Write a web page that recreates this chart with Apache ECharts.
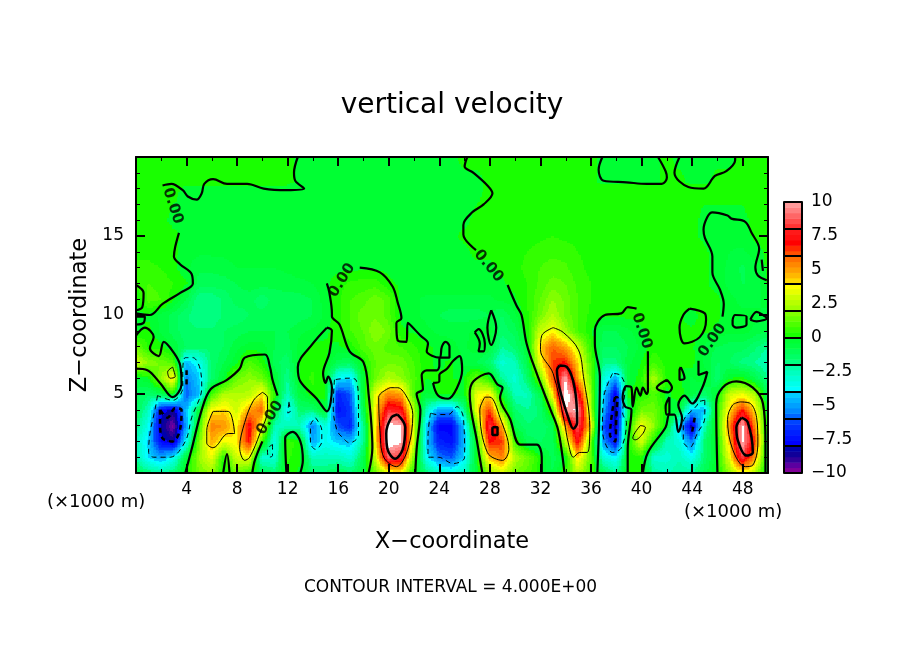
<!DOCTYPE html>
<html>
<head>
<meta charset="utf-8">
<title>vertical velocity</title>
<style>html,body{margin:0;background:#fff}#chart{width:904px;height:654px}</style>
<script src="https://cdn.jsdelivr.net/npm/echarts@6/dist/echarts.min.js"></script>
</head>
<body>
<div id="chart"></div>
<script>
// grid nodes of the field (x and z in 1000 m)
const xNodes = Array.from({ length: 51 }, (_, i) => i);
const zNodes = [0, 1, 2, 3, 4, 5, 6, 7, 8, 9, 10, 11, 12, 13, 14, 15, 16, 18, 18.5, 20];

// vertical velocity, one row per zNodes entry
const wRows = [
  [-1,-1.5,-2,-1.5,.2,1.5,2,0,1.5,.5, -1,-1.5,.2,-.1,-1.5,-1.5,-1,-1.5,-.5,1.5, 3,3.5,.2,-1.5,-2.5,-3,-2.5,-.5,2,3, 1.5,1,.1,-.8,.5,2.5,.8,-1,-2,.1, .1,-2,-2.5,-2,-2,-1,0,2,3.5,2.5, -.5],
  [-2,-4,-4.8,-3.5,-.5,2,3.5,.3,3,3.5, -3,-3,.5,.1,-2.5,-2.5,-2.5,-3,-1,3, 9,8,1.5,-3.5,-5.5,-6,-4,0,4.5,5.5, 2.5,1.5,.2,-1,-.2,4.2,1.2,-3,-3.8,0, .3,-3,-3,-2.5,-3.5,-1.5,0,3.5,8.5,5, -.5],
  [-2.5,-4.2,-7.5,-8.5,-3.5,1.5,4.8,3.5,4,7, 1,-3.5,.8,0,-4.8,-3.5,-4.2,-4.5,-2,4, 10.6,10.3,3,-4.2,-7,-7.5,-4.5,.2,7,6.5, .8,-1,-1.2,-1,2.5,7.5,1.5,-5,-7.5,.2, 3.2,.1,-2.5,-3,-5.5,-1.5,0,4.5,10.3,6.5, -.5],
  [-1.5,-3.5,-8.3,-9.8,-5,.3,5.5,5.2,3.8,7.5, 3.5,-2.5,-2.5,-2.5,-5.5,-3,-6,-7,-2,4, 10.5,10.2,3.2,-4,-7.8,-7.8,-4.2,1.5,8.5,5, -.8,-1.5,-1.5,-1,5,8.8,4.2,-6,-8.5,.1, 3.8,2,-.3,-4.2,-8.5,-2.5,.3,5.5,10.3,5.5, -.3],
  [-1,-2.5,-7.5,-8.5,-4.5,-.5,3.8,4.2,3,5, 6,-.5,-3.8,-1.5,-1.5,-.2,-7.5,-6.5,-1,4, 8,7.5,2.5,-2.5,-5,-5,-2,3.8,6.5,1.5, -1.5,-2,-1.5,1,9.8,10.2,2.5,-4.5,-8.5,-1, 1.5,1.5,.2,-.5,-4.5,-4.5,.5,4,7,4, -.3],
  [-1,-1.5,-1,.1,-6,-4.5,.8,2.5,2.5,2.5, 4.2,.3,-2.5,-.5,.3,.2,-7,-6,-.5,3.5, 5.5,5,1,-.5,.1,.1,-.1,3.5,4,-.2, -2.5,-2.5,-1,4,11,8,2,-4,-8,.2, .2,1,-.2,.3,-.5,-1.5,-.2,3,3.5,2.5, -1],
  [-.5,-.1,2,4.2,-5.5,-4.2,-1.5,-.2,1.5,2, 1.5,-.3,-2,.1,.5,-.1,-3.8,-4.2,-.3,1.5, 2.5,2,1,0,.1,0,0,1.5,.3,-2, -3,-1.5,1.5,6,10.1,5,1.5,-3,-5,-.5, .3,2.5,.3,.1,-.5,0,-1.5,0,.3,-.8, -2],
  [3,2,1.5,1,-4.5,-3.5,-1.5,-.8,-.1,1, .3,-1,-1.5,.1,.3,.1,-1,-1.2,.1,1.2, 1.5,1.5,.8,.1,-.1,.1,-.5,-.8,-1.5,-3, -2.5,-.8,3.5,6.5,7,4.2,1,-1.8,-1.8,-.5, 0,.8,.2,0,.2,-.5,-1.2,-1.2,-1.8,-2, -2.5],
  [1.5,.3,.2,-.5,-1.2,-1.5,-1.5,-1.2,-.5,-.2, -.2,-.8,-1,-.2,.1,.1,-.1,.2,1,1.5, 1,.8,.5,.1,-.1,-.3,-.5,-.1,-.5,-2, -1.5,-.3,4.2,6,5,3,.5,-1.2,-1.2,-.8, -.3,.2,.2,.1,.1,-.5,-.8,-1,-1,-1.5, -2],
  [-.2,.2,-.5,-1,-1.5,-1.5,-1.5,-1.2,-1,-.8, -.8,-.8,-.8,-.5,-.3,-.1,.2,.8,1.2,2, 1.5,.1,-.1,-.3,-.5,-.5,-.5,-.3,-.1,-1.5, -1,.2,2.8,3.8,2.2,.8,.1,-.8,-.8,-.5, -.1,.1,.1,0,.1,.1,-.1,-.3,-.2,-.5, -.8],
  [-.1,-.1,-.5,-1,-1.5,-2,-2,-1.5,-1.5,-1.2, -1,-1,-1.2,-1,-.8,-.3,.3,.8,1.5,1.5, 1,-.1,-.3,-.5,-.8,-1,-1,-1,-.8,-1.2, -.5,.3,1.5,2.5,1.5,.8,.3,.1,.1,.1, .2,.2,.2,.1,-.2,.2,.1,-.3,-.3,-.3, -.5],
  [-.1,1,.8,.1,-.8,-2,-2,-1.5,-1,-1, -1.5,-1,-1,-1,-.8,-.2,.3,.8,1,1.5, 1,-.1,-.3,-.5,-.5,-.5,-.5,-.5,-.5,-.3, -.1,.4,1.2,2,1.5,.8,.4,.2,.2,.2, .2,.2,.2,.2,.2,.2,.1,-.3,-.5,-.5, -.3],
  [.6,.8,.7,.4,.1,-1,-1,-1,-.8,-.6, -.6,-.7,-.6,-.5,-.4,-.1,.2,.5,.6,.6, .1,-.1,-.2,-.2,-.2,-.2,-.2,-.2,-.2,-.1, .2,.4,.9,1.4,1.2,.7,.4,.2,.2,.2, .2,.2,.2,.2,.2,.1,-.2,-.5,-.8,-.8, .1],
  [.5,.5,.4,.1,-.3,-.7,-.7,-.6,-.4,-.4, -.4,-.4,-.3,-.2,-.2,-.1,-.1,-.1,-.1,-.1, -.1,-.1,-.1,-.1,-.1,-.1,-.1,-.1,-.1,.1, .3,.5,.8,1,.9,.5,.3,.2,.2,.2, .2,.2,.2,.2,.2,.1,-.2,-.5,-.9,-.5, .1],
  [.3,.3,.2,.1,-.2,-.3,-.3,-.3,-.2,-.2, -.2,-.2,-.2,-.2,-.2,-.2,-.2,-.2,-.2,-.2, -.2,-.2,-.2,-.2,-.2,-.2,-.1,.1,.1,.2, .3,.4,.6,.7,.6,.4,.3,.2,.2,.2, .2,.2,.2,.2,.2,.1,-.2,-.4,-.5,-.2, .1],
  [.2,.2,.2,.1,-.1,-.1,-.1,-.1,-.1,-.1, -.1,-.1,-.1,-.1,-.1,-.1,-.1,-.1,-.1,-.1, -.1,-.1,-.1,-.1,-.1,-.1,.1,.1,.1,.1, .2,.2,.3,.4,.3,.3,.2,.1,.1,.1, .1,.1,.1,.1,.1,-.1,-.2,-.3,-.2,.1, .1],
  [.1,.1,.1,-.1,-.1,-.1,-.1,-.1,-.1,-.1, -.1,-.1,-.1,-.1,-.1,-.1,-.1,-.1,-.1,-.1, -.1,-.1,-.1,-.1,-.1,-.1,-.1,.1,.1,.1, .1,.2,.2,.3,.2,.2,.1,.1,.1,.1, .1,.1,.1,.1,.1,-.1,-.1,-.1,-.1,.1, .1],
  [.1,.1,.1,.1,-.1,-.1,-.1,-.1,-.1,-.1, -.1,-.1,-.1,-.1,-.1,-.1,-.1,-.1,-.1,-.1, -.1,-.1,-.1,-.1,-.1,-.1,-.1,-.1,.1,.1, .1,.1,.1,.1,.1,.1,.1,.1,.1,.1, .1,.1,.1,.1,.1,.1,.1,.1,.1,.1, .1],
  [.1,.1,.1,.1,.1,.1,.1,.1,.1,.1, .1,.1,.1,-.1,-.1,-.1,-.1,-.1,-.1,-.1, -.1,-.1,-.1,-.1,-.1,-.1,-.1,-.1,.1,.1, .1,.1,.1,.1,.1,.1,.1,-.1,-.1,-.1, -.1,-.1,.1,.1,-.1,-.1,.1,.1,.1,.1, .1],
  [.1,.1,.1,.1,.1,.1,.1,.1,.1,.1, .1,.1,.1,-.1,-.1,-.1,-.1,-.1,-.1,-.1, -.1,-.1,-.1,-.1,-.1,-.1,.1,.1,.1,.1, .1,.1,.1,.1,.1,.1,.1,-.1,-.1,-.1, -.1,-.1,.1,-.1,-.1,-.1,-.1,-.1,.1,.1, .1]
];

// colour bands, bottom of the bar upwards, each one levelStep wide
const levelMin = -10;
const levelStep = 0.4;
const levelColors = [
  '#800099','#5c00a0','#300099','#100099','#0000aa',
  '#0000ff','#0010ff','#0020ff','#0030ff','#0044ff',
  '#0066ff','#0088ff','#00a0ff','#00b4ff','#00ccff',
  '#00ffff','#00ffea','#00ffd5','#00ffc0','#00ffaa',
  '#00ff80','#00ff66','#00ff55','#00ff40','#00ff33',
  '#19ff00','#33ff00','#4dff00','#66ff00','#80ff00',
  '#a0ff00','#b8ff00','#ccff00','#e8ff00','#ffff00',
  '#ffd800','#ffb800','#ff9f00','#ff8800','#ff7000',
  '#ff5000','#ff2a00','#ff0000','#ff1010','#ff1a1a',
  '#ff3333','#ff4d4d','#ff6666','#ff8080','#ff9999'
];

// contour lines, [x, z]
const zeroContours = [
  [[2.1,18.2],[2.8,18.3],[3.7,17.9],[4.1,17.5],[4.8,17.3],[5.2,17.7],[5.4,18.3],[6.1,18.6],[7.2,18.3],[8.8,18.3],[10.1,18],[11.9,17.9],[13.3,18],[12.6,18.5],[12.5,19],[12.8,20]],
  [[3.4,15.2],[3.1,14.3],[3,13.7],[3.5,13.2],[4.4,12.6],[4.5,12],[3.5,11.4],[2.1,10.7],[1.1,10],[0,10.1]],
  [[0,11.9],[.6,11.4],[.5,10.5],[0,10.3]],
  [[0,9.9],[.7,9.9],[.6,9.5],[0,9.4]],
  [[0,8.7],[.7,9.2],[1.4,8.6],[1.1,7.9],[1.8,7.4],[2.2,8.3],[3,7.6],[3.5,6.8],[3.6,5.6],[2.9,4.8],[1.9,5.7],[.9,6.5],[0,6.6]],
  [[3.9,0],[4.4,1.5],[5.2,4],[5.9,5.3],[7.2,5.9],[8.2,6.6],[8.6,7.3],[10.2,7.5],[10.6,6.7],[10.8,5.9],[11.2,4.9]],
  [[10,2],[9.4,.8],[9.2,0]],
  [[6.9,0],[7.2,1.2],[7.4,0]],
  [[11.9,0],[11.8,2.2],[12.4,2.6],[13,2],[13.2,.8],[13,0]],
  [[15.1,9.2],[14,8.2],[12.8,6.7],[13,5.8],[14.3,4.7],[15.1,3.9],[15.5,5.4],[15.2,6.1],[15,5.7],[14.8,6.3],[15.3,7.6],[15.5,9],[15.1,9.2]],
  [[15.1,12],[15.3,11.4],[15.5,10.1],[15.5,9.9],[16.1,9.4],[16.9,7.7],[18,7],[18.4,5],[18.7,1.6],[18.4,0]],
  [[17.7,13],[19.3,12.7],[20.3,11.8],[20.7,10.8],[21,9.8],[20.6,9.5],[20.7,8.4],[21.4,8.3],[21.5,9.5],[22.5,8.7],[23.1,8.2],[23,7.7],[24,7.3],[24.2,8],[24.5,8.3],[24.8,8],[24.8,7.3],[24,7.3],[24,6.8],[23.8,6.5],[23,6.5],[22.6,6.2],[22.7,5.3],[22.2,5],[22.5,4],[22.2,1.5],[22.1,0]],
  [[23.5,5.7],[23.9,4.9],[24.7,4.7],[25.4,5.4],[25.8,6.5],[25.6,7.4],[25.1,7.1],[24.6,6.6],[24,6.2],[24,5.8],[23.5,5.7]],
  [[28.1,10.3],[28.5,9.2],[28.1,8.1],[27.8,9.2],[28.1,10.3]],
  [[26.8,8.9],[27.1,9.1],[27.6,8.2],[27.5,7.7],[27.1,7.7],[27.2,8.2],[26.8,8.9]],
  [[27.4,0],[27,1.9],[26.4,5],[26.7,5.8],[27.9,6.3],[28.6,5.6],[29,5.4],[28.8,4.8],[29.6,3.4],[30.4,1.8],[31.7,1.8],[32.1,1],[32.1,0]],
  [[26.2,20],[26,19.4],[26.7,19],[27.8,18.2],[28.2,17.7],[27.5,17],[26.6,16.5],[25.9,15.7],[25.9,15.1],[26.9,14.1]],
  [[29.4,11.9],[30.1,10.6],[30.5,10],[30.9,8.2],[31.7,6.3],[32.8,4],[33.4,2.7],[33.9,0]],
  [[39.6,10.4],[38.9,10.5],[38.4,10.1],[37.1,10],[36.3,9],[36.3,8.2],[36.7,6.1],[36.5,0]],
  [[38.9,0],[38.9,1.5],[39.2,4],[38.7,4.2],[38.5,4.8],[38.8,5.5],[39.2,5.4],[39.3,4.2],[39.6,5.4],[39.9,4.9],[40.1,5.4],[40.4,5],[40.5,5.2],[40.5,7.7]],
  [[40.1,0],[40.5,1.3],[41.9,2.9],[42.2,3.7],[42.6,3.7],[42.9,2.6],[43.2,3.5],[42.9,4.3],[43.4,4.9],[44,4.4],[44.8,5.4],[45.2,6.4],[44.5,6.2],[44.5,7.1]],
  [[46.4,9.9],[46.5,10.7],[46.2,11.6],[45.6,12.7],[45.6,13.7],[45,14.9],[44.9,15.4],[45.2,16.2],[45.6,16.5],[46.8,16.3],[47.1,16.1],[48.2,15.9],[48.7,15.2],[49.3,14.2],[49,13],[49.2,12.5],[49.9,12.2]],
  [[49.5,13.5],[49.6,12.8]],
  [[36.9,20],[36.6,19.2],[37,18.5],[38.8,18.4],[40.4,18.3],[41.6,18.3],[42,18.7],[41.9,19.1],[41.3,20]],
  [[43,20],[42.6,19],[43.7,18.1],[44.9,18],[45.8,18.8],[46.7,19.1],[47.4,19.8],[47.4,20]],
  [[43.8,10.4],[45,10.1],[45.1,9.7],[44.6,8.6],[43.4,8.2],[43,9.2],[43.3,10],[43.8,10.4]],
  [[47.2,9.7],[47.4,10],[48.3,9.9],[48.3,9.4],[47.5,9.2],[47.2,9.4],[47.2,9.7]],
  [[48.6,9.7],[49.1,10.2],[49.6,10],[49.9,9.8],[49.1,9.6],[48.6,9.7]],
  [[42,5.9],[42.4,5.4],[42.1,5.1],[41.2,5.4],[42,5.9]],
  [[43.1,6.7],[43.4,6],[43,5.9],[43,6.5],[43.1,6.7]],
  [[42.2,4.8],[42.2,3.8],[42,3.7],[41.9,4.2],[42.2,4.8]],
  [[46,0],[45.9,4.4],[46.4,5.4],[47.5,5.8],[48.8,5.4],[49.6,4.4],[49.8,1.9],[49.8,0]]
];
const posFourContours = [
  [[2.9,6.7],[3.1,6.1],[2.7,6],[2.5,6.4],[2.9,6.7]],
  [[6.1,3.9],[7.3,3.9],[7.8,2.5],[7.3,2.5],[6.1,1.6],[5.6,1.9],[5.6,2.7],[6.1,3.9]],
  [[10,5.1],[10.4,4.8],[10.4,4],[9.8,2.5],[9,1],[8.6,.8],[8.2,1.6],[8.6,3.2],[9.3,4.6],[10,5.1]],
  [[20.1,5.4],[20.7,5.4],[21.5,4.7],[21.9,3.7],[21.5,1.5],[20.6,.4],[19.6,1],[19.3,2.7],[19.2,4.8],[20.1,5.4]],
  [[27.6,4.8],[28,4.8],[28.8,3.5],[29.5,1.5],[29,.8],[27.8,1.3],[27.2,4],[27.6,4.8]],
  [[33,9.2],[33.8,8.9],[35,7.8],[35.4,6.1],[35.9,2.9],[35.7,1.3],[35.1,1.3],[34.6,1],[34.2,1.9],[33.9,3.2],[33,6.3],[32,7.8],[32.1,8.7],[33,9.2]],
  [[39.9,3],[40.3,2.9],[40.1,2.5],[39.5,2.1],[39.3,2.2],[39.9,3]],
  [[47.8,4.5],[48.6,4.4],[49.1,3.5],[49.2,1.9],[48.8,.5],[48.2,.4],[47.2,1.5],[46.8,3.4],[47.2,4.3],[47.8,4.5]]
];
const posEightContours = [
  [[20.7,3.7],[21.3,2.9],[21.1,1.5],[20.5,.9],[19.9,1.5],[19.8,2.5],[20.2,3.5],[20.7,3.7]],
  [[28.2,2.9],[28.6,2.9],[28.6,2.4],[28.2,2.4],[28.2,2.9]],
  [[33.5,6.8],[34.1,6.7],[34.7,5.4],[34.9,3.2],[34.6,2.8],[34.2,3.5],[33.5,5.4],[33.3,6.5],[33.5,6.8]],
  [[47.9,3.5],[48.4,3.2],[48.8,1.3],[48.3,1.1],[47.6,2.1],[47.5,2.9],[47.9,3.5]]
];
const negFourContours = [
  [[1.7,4.9],[1.5,4],[1.1,2.5],[1,1.3],[1.4,1],[2.7,1],[3.9,2],[4.4,3.5],[5.2,5.4],[5.1,6.5],[4.5,7.3],[3.9,7.3],[3.7,6.3],[3.7,5.4],[2.9,4.6],[1.7,4.9]],
  [[14.2,3.5],[14.7,2.7],[14.7,2],[14.2,1.5],[13.8,1.9],[13.8,3],[14.2,3.5]],
  [[12.1,4.5],[12.2,3.9],[12,3.8],[12.1,4.5]],
  [[10.8,1.8],[10.8,1.1],[10.5,1],[10.4,1.5],[10.8,1.8]],
  [[15.7,5.9],[15.6,4.2],[15.9,2.7],[16.4,2.2],[16.9,1.9],[17.6,2.4],[17.6,4.2],[17.4,5.9],[16.7,6],[15.7,5.9]],
  [[23.3,3.8],[23.1,2.3],[23.1,1],[23.9,1],[25.1,.6],[26,1],[25.9,3.5],[25.4,4.2],[24.7,3.7],[23.8,3.7],[23.3,3.8]],
  [[37.7,6.3],[37,4.8],[36.9,2.7],[37.7,1.3],[38.4,1.6],[38.8,3.2],[38.5,3.8],[38.7,5.4],[38.3,6.2],[37.7,6.3]],
  [[45,4.6],[45,3.5],[44.4,2.5],[43.8,1.6],[43.3,2],[43.3,3.2],[44.4,4.3],[44.5,4.5],[45,4.6]]
];
const negEightContours = [
  [[1.9,4],[1.9,3.2],[2.1,2.2],[2.9,2],[3.5,2.8],[3.6,4],[3.1,4.1],[2.5,3.5],[1.9,4]],
  [[4,6.5],[4,5.4]],
  [[37.9,4.8],[37.7,4],[37.5,2.4],[37.9,2],[38,3.5],[38.1,4.8],[37.9,4.8]],
  [[44.2,3.5],[44,2.6]]
];

// "0.00" labels along the zero contour
const labelPoints = [[2.9,16.9],[16.3,12.2],[27.9,13.1],[10.6,3.5],[40,9],[45.6,8.4]];
const labelAngles = [-72,58,-50,58,-72,55];

const barTicks = [-10, -7.5, -5, -2.5, 0, 2.5, 5, 7.5, 10];

const FONT = '"DejaVu Sans", sans-serif';

function levelColor(v) {
  if (v > 10) return '#ffffff';
  const idx = Math.floor((v - levelMin) / levelStep);
  return levelColors[Math.max(0, Math.min(levelColors.length - 1, idx))];
}

// one item per cell between grid nodes, shaded between its four corner values
const cellData = [];
for (let j = 0; j < zNodes.length - 1; j++) {
  for (let i = 0; i < xNodes.length - 1; i++) cellData.push([i, j]);
}

function renderCell(params, api) {
  const i = api.value(0), j = api.value(1);
  const x0 = xNodes[i], x1 = xNodes[i + 1], z0 = zNodes[j], z1 = zNodes[j + 1];
  const a = wRows[j][i], b = wRows[j][i + 1], c = wRows[j + 1][i], d = wRows[j + 1][i + 1];
  const nx = 8, nz = Math.max(2, Math.round((z1 - z0) * 10));
  const children = [];
  for (let r = 0; r < nz; r++) {
    const tz = (r + 0.5) / nz;
    const pTop = api.coord([x0, z0 + (z1 - z0) * (r + 1) / nz]);
    const pBot = api.coord([x0, z0 + (z1 - z0) * r / nz]);
    let start = 0, color = null;
    for (let s = 0; s <= nx; s++) {
      let col = null;
      if (s < nx) {
        const tx = (s + 0.5) / nx;
        col = levelColor((a * (1 - tx) + b * tx) * (1 - tz) + (c * (1 - tx) + d * tx) * tz);
      }
      if (col !== color) {
        if (color !== null) {
          const left = api.coord([x0 + (x1 - x0) * start / nx, z0])[0];
          const right = api.coord([x0 + (x1 - x0) * s / nx, z0])[0];
          children.push({
            type: 'rect',
            shape: {
              x: Math.floor(left), y: Math.floor(pTop[1]),
              width: Math.ceil(right) - Math.floor(left),
              height: Math.ceil(pBot[1]) - Math.floor(pTop[1])
            },
            style: { fill: color }
          });
        }
        start = s;
        color = col;
      }
    }
  }
  return { type: 'group', children, silent: true };
}

function renderBarLevel(params, api) {
  const lo = levelMin + api.value(0) * levelStep;
  const p0 = api.coord([0, lo + levelStep]);
  const p1 = api.coord([1, lo]);
  return {
    type: 'rect',
    shape: { x: p0[0], y: p0[1], width: p1[0] - p0[0], height: p1[1] - p0[1] + 0.5 },
    style: { fill: levelColors[api.value(0)] }
  };
}

function contourSeries(lines, width, dashed) {
  return lines.map(pts => ({
    type: 'line',
    xAxisIndex: 0,
    yAxisIndex: 0,
    data: pts,
    symbol: 'none',
    smooth: 0.35,
    silent: true,
    z: 4,
    clip: true,
    lineStyle: { color: '#000', width, type: dashed ? [5, 4] : 'solid' }
  }));
}

const blackLine = { show: true, onZero: false, lineStyle: { color: '#000', width: 2 } };
const mainTick = { show: true, inside: true, length: 9, lineStyle: { color: '#000', width: 2 } };
const mainMinor = { show: true, length: 4, lineStyle: { color: '#000', width: 1 } };
const nameStyle = { color: '#000', fontFamily: FONT, fontSize: 22.5 };

const chart = echarts.init(document.getElementById('chart'), null, { renderer: 'canvas' });

chart.setOption({
  animation: false,
  backgroundColor: '#fff',
  title: {
    text: 'vertical velocity',
    left: 447,
    top: 87,
    textAlign: 'center',
    textStyle: { color: '#000', fontFamily: FONT, fontSize: 28, fontWeight: 'normal' }
  },
  graphic: [
    { type: 'text', left: 47, top: 493, style: { text: '(×1000 m)', fill: '#000', font: '18px ' + FONT } },
    { type: 'text', left: 684, top: 503, style: { text: '(×1000 m)', fill: '#000', font: '18px ' + FONT } },
    { type: 'text', left: 304, top: 579, style: { text: 'CONTOUR INTERVAL = 4.000E+00', fill: '#000', font: '17px ' + FONT } }
  ],
  grid: [
    { left: 136, top: 157, width: 632, height: 316 },
    { left: 784, top: 202, width: 18, height: 271 }
  ],
  xAxis: [
    {
      type: 'value', gridIndex: 0, position: 'bottom', min: 0, max: 50, interval: 4, z: 10,
      name: 'X−coordinate', nameLocation: 'middle', nameGap: 58, nameTextStyle: nameStyle,
      axisLine: blackLine, axisTick: mainTick,
      minorTick: { ...mainMinor, splitNumber: 2 }, splitLine: { show: false },
      axisLabel: { color: '#000', fontFamily: FONT, fontSize: 17, margin: 8, showMinLabel: false, showMaxLabel: false }
    },
    {
      type: 'value', gridIndex: 0, position: 'top', min: 0, max: 50, interval: 4, z: 10,
      axisLine: blackLine, axisTick: mainTick,
      minorTick: { ...mainMinor, splitNumber: 2 }, splitLine: { show: false }, axisLabel: { show: false }
    },
    {
      type: 'value', gridIndex: 1, min: 0, max: 1, show: false
    }
  ],
  yAxis: [
    {
      type: 'value', gridIndex: 0, position: 'left', min: 0, max: 20, interval: 5, z: 10,
      name: 'Z−coordinate', nameLocation: 'middle', nameGap: 38, nameRotate: 90, nameTextStyle: nameStyle,
      axisLine: blackLine, axisTick: mainTick,
      minorTick: { ...mainMinor, splitNumber: 5 }, splitLine: { show: false },
      axisLabel: { color: '#000', fontFamily: FONT, fontSize: 17, margin: 12, showMinLabel: false, showMaxLabel: false }
    },
    {
      type: 'value', gridIndex: 0, position: 'right', min: 0, max: 20, interval: 5, z: 10,
      axisLine: blackLine, axisTick: mainTick,
      minorTick: { ...mainMinor, splitNumber: 5 }, splitLine: { show: false }, axisLabel: { show: false }
    },
    {
      // black separators of the colour bar
      type: 'value', gridIndex: 1, position: 'left', min: -10, max: 10, interval: 2, z: 10,
      axisLine: blackLine, axisTick: { show: false }, axisLabel: { show: false },
      splitLine: { show: true, lineStyle: { color: '#000', width: 2 } }
    },
    {
      type: 'value', gridIndex: 1, position: 'right', min: -10, max: 10, interval: 2.5, z: 10,
      axisLine: blackLine, axisTick: { show: false }, splitLine: { show: false },
      axisLabel: {
        color: '#000', fontFamily: FONT, fontSize: 17, margin: 9,
        customValues: barTicks,
        formatter: v => String(v).replace('-', '−')
      }
    }
  ],
  series: [
    {
      type: 'custom',
      xAxisIndex: 0,
      yAxisIndex: 0,
      data: cellData,
      renderItem: renderCell,
      silent: true,
      progressive: 0,
      z: 1
    },
    {
      type: 'custom',
      xAxisIndex: 2,
      yAxisIndex: 2,
      data: levelColors.map((_, i) => [i]),
      encode: { x: [], y: [] },
      renderItem: renderBarLevel,
      silent: true,
      z: 1
    },
    ...contourSeries(zeroContours, 2.2, false),
    ...contourSeries(posFourContours, 1, false),
    ...contourSeries(posEightContours, 2.5, false),
    ...contourSeries(negFourContours, 1, true),
    ...contourSeries(negEightContours, 2.5, true),
    {
      type: 'scatter',
      xAxisIndex: 0,
      yAxisIndex: 0,
      symbolSize: 0,
      silent: true,
      z: 5,
      data: labelPoints.map((p, i) => ({
        value: p,
        label: {
          show: true,
          position: 'inside',
          formatter: '0.00',
          rotate: labelAngles[i],
          color: '#000',
          fontFamily: FONT,
          fontWeight: 'bold',
          fontSize: 15
        }
      }))
    }
  ]
});
</script>
</body>
</html>
